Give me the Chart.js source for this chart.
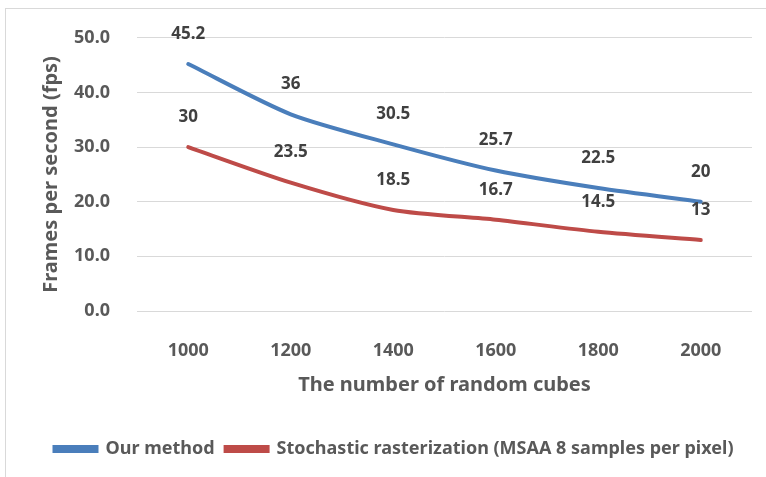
<!DOCTYPE html>
<html>
<head>
<meta charset="utf-8">
<script src="https://cdn.jsdelivr.net/npm/chart.js@4/dist/chart.umd.min.js"></script>
<style>
    html, body { margin: 0; padding: 0; background: #fff; overflow: hidden; }
    body { width: 766px; height: 477px; position: relative; }
    .frame { position: absolute; left: 5px; top: 8px; width: 820px; height: 520px; border: 1px solid #d9d9d9; }
    .wrap { position: absolute; left: 0; top: 0; width: 792px; height: 477px; }
</style>
</head>
<body>
<div class="frame"></div>
<div class="wrap"><canvas id="chart" width="792" height="477"></canvas></div>
<script>
const cubes = ['1000', '1200', '1400', '1600', '1800', '2000'];
const ourMethod = [45.2, 36, 30.5, 25.7, 22.5, 20];
const stochastic = [30, 23.5, 18.5, 16.7, 14.5, 13];
const yTicks = [0, 10, 20, 30, 40, 50];

const FONT = "'Noto Sans', 'DejaVu Sans', sans-serif";

// value labels above every point
const pointLabels = {
    id: 'pointLabels',
    afterDatasetsDraw(chart) {
        const ctx = chart.ctx;
        ctx.save();
        ctx.font = 'bold 17px ' + FONT;
        ctx.fillStyle = '#404040';
        ctx.textAlign = 'center';
        ctx.textBaseline = 'middle';
        chart.data.datasets.forEach((ds, i) => {
            chart.getDatasetMeta(i).data.forEach((pt, j) => {
                ctx.fillText(String(ds.data[j]), pt.x, pt.y - 30);
            });
        });
        ctx.restore();
    }
};

new Chart(document.getElementById('chart'), {
    type: 'line',
    data: {
        labels: cubes,
        datasets: [
            {
                label: 'Our method',
                data: ourMethod,
                borderColor: '#4a7ebb',
                backgroundColor: '#4a7ebb',
                borderWidth: 4,
                borderCapStyle: 'round',
                tension: 0.25,
                pointRadius: 0
            },
            {
                label: 'Stochastic rasterization (MSAA 8 samples per pixel)',
                data: stochastic,
                borderColor: '#be4b48',
                backgroundColor: '#be4b48',
                borderWidth: 4,
                borderCapStyle: 'round',
                tension: 0.25,
                pointRadius: 0
            }
        ]
    },
    options: {
        responsive: false,
        animation: false,
        layout: { padding: { left: 10, right: 14, top: 36, bottom: 9 } },
        plugins: {
            tooltip: { enabled: false },
            legend: {
                position: 'bottom',
                labels: {
                    boxWidth: 42,
                    boxHeight: 4,
                    padding: 11,
                    color: '#595959',
                    font: { family: FONT, size: 18, weight: 'bold' }
                }
            }
        },
        scales: {
            x: {
                offset: true,
                grid: { display: false },
                border: { display: false },
                ticks: { color: '#595959', padding: 21, font: { family: FONT, size: 18, weight: 'bold' } },
                title: {
                    display: true,
                    text: 'The number of random cubes',
                    color: '#595959',
                    padding: { top: 0, bottom: 32 },
                    font: { family: FONT, size: 20, weight: 'bold' }
                },
                afterFit: s => { s.height = 118; }
            },
            y: {
                min: 0,
                max: 50,
                grid: { color: '#d9d9d9', lineWidth: 1, drawTicks: false },
                border: { display: false },
                afterBuildTicks: s => { s.ticks = yTicks.map(v => ({ value: v })); },
                ticks: {
                    color: '#595959',
                    padding: 27,
                    font: { family: FONT, size: 18, weight: 'bold' },
                    callback: v => v.toFixed(1)
                },
                title: {
                    display: true,
                    text: 'Frames per second (fps)',
                    color: '#595959',
                    padding: { top: 29, bottom: 0 },
                    font: { family: FONT, size: 20, weight: 'bold' }
                },
                afterFit: s => { s.width = 127; }
            },
            // empty right strip so the legend centres like the cropped original
            pad: {
                type: 'linear',
                position: 'right',
                grid: { display: false },
                border: { display: false },
                ticks: { display: false },
                afterFit: s => { s.width = 26; }
            }
        }
    },
    plugins: [pointLabels]
});
</script>
</body>
</html>
